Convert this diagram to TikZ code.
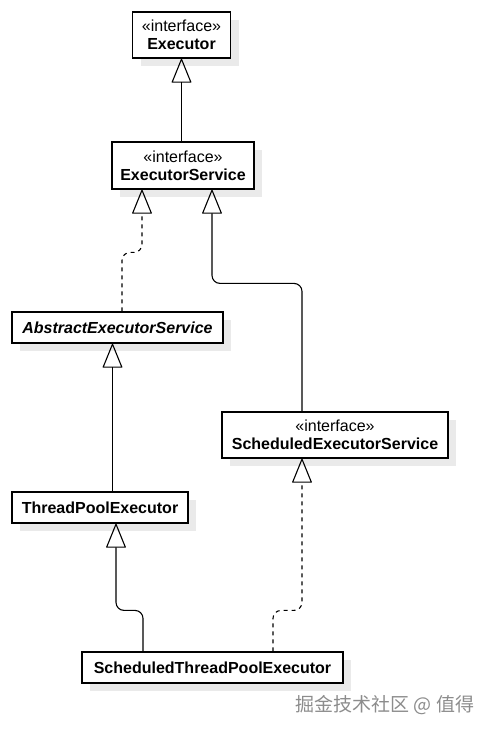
\documentclass[tikz,border=0pt]{standalone}
\usepackage{fontspec}
\setmainfont{Liberation Sans}
\newfontfamily\cjk{Noto Sans CJK SC}
\usetikzlibrary{arrows.meta,shadows}
\definecolor{shadowgray}{RGB}{234,234,234}
\definecolor{markgray}{RGB}{140,140,140}

\begin{document}
\begin{tikzpicture}[x=1pt, y=-1pt,
        umlbox/.style={draw, line width=1.2pt, fill=white, align=center, inner sep=0pt,
          font=\fontsize{16}{18}\selectfont,
          drop shadow={shadow xshift=8pt, shadow yshift=-8pt, fill=shadowgray, opacity=1}},
        extends/.style={line width=1.1pt, rounded corners=8pt,
          -{Triangle[open, length=25pt, width=20pt, round]}},
        implements/.style={extends, dash pattern=on 4pt off 4pt},
        watermark/.style={font=\cjk\fontsize{19}{21}\selectfont, text=markgray}
      ]
      \useasboundingbox (0,0) rectangle (497,732);

      \node[umlbox, minimum width=98pt, minimum height=46pt] (exec) at (181.5,35)
        {«interface»\\\textbf{Executor}};
      \node[umlbox, minimum width=142pt, minimum height=47pt] (execsvc) at (183,165.5)
        {«interface»\\\textbf{ExecutorService}};
      \node[umlbox, minimum width=211pt, minimum height=31pt] (abstract) at (117.5,327.5)
        {\textbf{\textit{AbstractExecutorService}}};
      \node[umlbox, minimum width=226pt, minimum height=46pt] (schedsvc) at (335,435)
        {«interface»\\\textbf{ScheduledExecutorService}};
      \node[umlbox, minimum width=176pt, minimum height=31pt] (tpe) at (100,507.5)
        {\textbf{ThreadPoolExecutor}};
      \node[umlbox, minimum width=261pt, minimum height=31pt] (stpe) at (212.5,667.5)
        {\textbf{ScheduledThreadPoolExecutor}};

      \draw[extends] (exec.south |- execsvc.north) -- (exec.south);
      \draw[implements] ([xshift=4.5pt]abstract.north) -- ++(0,-59) -| ([xshift=-41pt]execsvc.south);
      \draw[extends] ([xshift=-33pt]schedsvc.north) -- ++(0,-128) -| ([xshift=29pt]execsvc.south);
      \draw[extends] ([xshift=12.5pt]tpe.north) -- ([xshift=12.5pt]tpe.north |- abstract.south);
      \draw[extends] ([xshift=-69.5pt]stpe.north) -- ++(0,-41) -| ([xshift=16pt]tpe.south);
      \draw[implements] ([xshift=60.5pt]stpe.north) -- ++(0,-41) -| ([xshift=-33pt]schedsvc.south);

      \node[watermark] (mark) at (385,705) {掘金技术社区 @ 值得};
    \end{tikzpicture}
\end{document}
